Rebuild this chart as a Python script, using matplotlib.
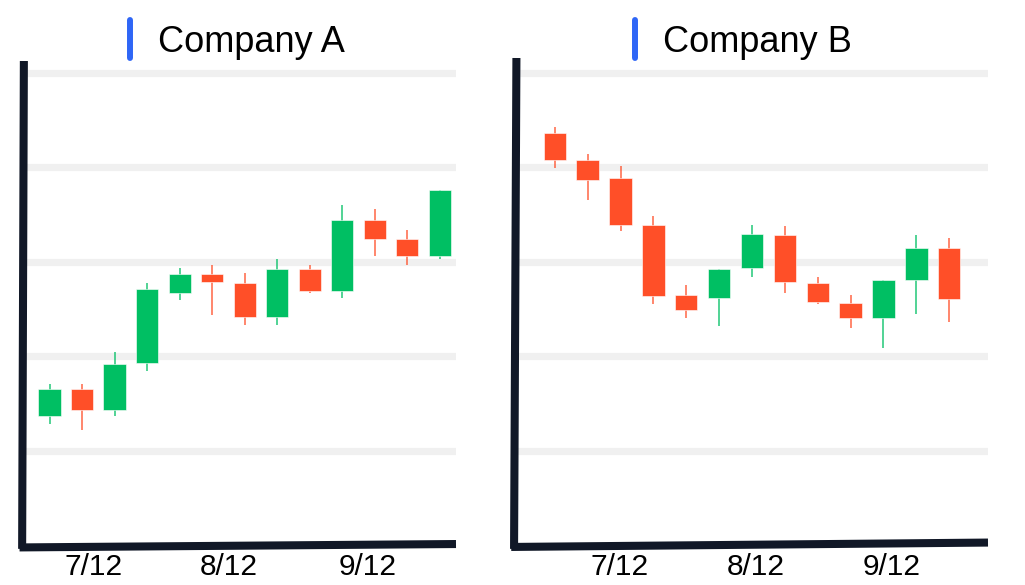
import matplotlib
matplotlib.use("Agg")
import matplotlib.pyplot as plt
import numpy as np
from matplotlib.lines import Line2D

plt.rcParams["font.family"] = ["Liberation Sans", "DejaVu Sans"]

W, H = 1025, 585

# ── data ─────────────────────────────────────────────────────────────────────
a_open  = [27.3, 33.0, 28.6, 38.5, 53.4, 57.4, 55.4, 48.2, 58.5, 53.8, 68.9, 64.7, 61.3]
a_close = [33.0, 28.6, 38.3, 54.3, 57.4, 55.6, 48.2, 58.5, 53.8, 68.9, 64.7, 61.3, 75.1]
a_high  = [34.1, 34.1, 40.9, 55.4, 58.6, 59.2, 57.6, 60.6, 59.2, 72.0, 71.1, 66.7, 75.1]
a_low   = [25.6, 24.4, 27.3, 36.8, 51.8, 48.7, 46.5, 46.5, 53.3, 52.4, 61.2, 59.2, 60.6]

b_open  = [87.3, 81.6, 77.7, 67.8, 53.0, 52.4, 58.8, 65.7, 55.6, 51.3, 48.0, 56.2, 62.9]
b_close = [81.6, 77.4, 67.9, 52.8, 49.9, 58.5, 65.8, 55.7, 51.4, 48.0, 56.1, 62.9, 52.1]
b_high  = [88.6, 82.9, 80.3, 69.7, 55.1, 58.5, 67.9, 67.7, 56.8, 53.0, 56.1, 65.7, 65.0]
b_low   = [79.9, 73.1, 66.6, 51.1, 48.2, 46.4, 56.8, 53.5, 51.0, 46.0, 41.7, 49.0, 47.3]

tick_labels = ["7/12", "8/12", "9/12"]
a_ticks = [1.34, 5.52, 9.77]
b_ticks = [1.96, 6.10, 10.26]

titles = ["Company A", "Company B"]

GREEN = "#00BF63"
RED   = "#FF4F28"
AXIS  = "#111827"
GRID  = "#F0F0F0"
BLUE  = "#2F66F6"


def draw_panel(ax, opens, closes, highs, lows, ticks, xlim, ytop, tilt):
    x = np.arange(len(opens))
    for g in [20, 40, 60, 80, 100]:
        ax.axhline(g, color=GRID, lw=5.2, zorder=0)

    for i in x:
        c = GREEN if closes[i] >= opens[i] else RED
        ax.vlines(i, lows[i], highs[i], color=c, lw=1.2, alpha=0.8, zorder=2)
    colors = [GREEN if c >= o else RED for o, c in zip(opens, closes)]
    heights = [c - o for o, c in zip(opens, closes)]
    ax.bar(x, heights, bottom=opens, width=0.68, color=colors, zorder=3,
           edgecolor="white", linewidth=0.4)

    ax.set_xlim(*xlim)
    ax.set_ylim(0, ytop)
    ax.set_yticks([])
    ax.set_xticks(ticks)
    ax.set_xticklabels(tick_labels, fontsize=21.5)
    ax.tick_params(axis="x", length=0, pad=6)
    for s in ax.spines.values():
        s.set_visible(False)

    # slightly hand-drawn axis lines
    lt, lb, bl, br = tilt
    ax.add_line(Line2D([lb, lt], [-0.008, 1.0], transform=ax.transAxes,
                       color=AXIS, lw=5.8, solid_capstyle="butt", clip_on=False))
    ax.add_line(Line2D([-0.008, 1.0], [bl, br], transform=ax.transAxes,
                       color=AXIS, lw=5.8, solid_capstyle="butt", clip_on=False))


fig = plt.figure(figsize=(W / 100, H / 100), dpi=100)

axA = fig.add_axes([23 / W, (H - 545) / H, (456 - 23) / W, (545 - 61) / H])
draw_panel(axA, a_open, a_close, a_high, a_low, a_ticks,
           (-0.815, 12.5), 102.5, (0.002, -0.002, -0.005, 0.002))

axB = fig.add_axes([515 / W, (H - 545) / H, (988 - 515) / W, (545 - 58) / H])
draw_panel(axB, b_open, b_close, b_high, b_low, b_ticks,
           (-1.21, 13.18), 103.2, (0.003, -0.002, -0.004, 0.005))

# titles with blue marker bars
for bar_x, txt_x, title in [(130, 158, titles[0]), (635, 663, titles[1])]:
    fig.add_artist(Line2D([bar_x / W, bar_x / W], [1 - 20 / H, 1 - 58 / H],
                          color=BLUE, lw=4.3, solid_capstyle="round"))
    fig.text(txt_x / W, 1 - 52 / H, title, fontsize=26, color="black",
             ha="left", va="baseline")

fig.savefig("out.png", dpi=100, facecolor="white")
